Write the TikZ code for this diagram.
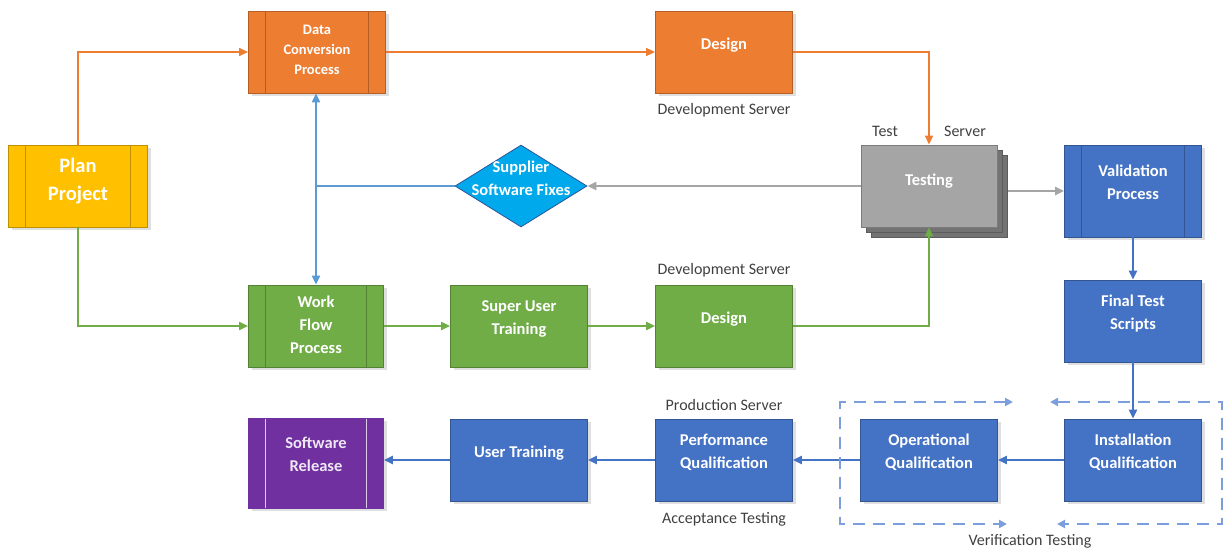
\documentclass[tikz,border=0pt]{standalone}
\usepackage{fontspec}
\setmainfont{Carlito}
\usetikzlibrary{arrows.meta, shapes.geometric, shadows, backgrounds}
\definecolor{amber}{RGB}{255,192,0}
\definecolor{convorange}{RGB}{237,125,49}
\definecolor{flowgreen}{RGB}{112,173,71}
\definecolor{qualblue}{RGB}{68,114,196}
\definecolor{relpurple}{RGB}{112,48,160}
\definecolor{testgray}{RGB}{165,165,165}
\definecolor{stackgray}{RGB}{115,115,115}
\definecolor{fixcyan}{RGB}{0,168,236}
\definecolor{fixedge}{RGB}{47,85,151}
\definecolor{linkblue}{RGB}{91,155,213}
\definecolor{vtblue}{RGB}{124,158,220}
\definecolor{notegray}{RGB}{64,64,64}

\begin{document}
\begin{tikzpicture}[x=1pt, y=-1pt,
        boxbase/.style={draw=#1!75!black, fill=#1, line width=0.8pt, minimum width=137pt, minimum height=82pt,
                        align=center, text=white, font=\fontsize{16.5}{23}\selectfont\bfseries, text depth=17pt},
        box/.style={boxbase=#1, drop shadow={shadow xshift=3pt, shadow yshift=-3pt, opacity=0.25}},
        bars/.style={path picture={
            \draw[#1, line width=1.4pt]
              ([xshift=17pt]path picture bounding box.north west) -- ([xshift=17pt]path picture bounding box.south west)
              ([xshift=-17pt]path picture bounding box.north east) -- ([xshift=-17pt]path picture bounding box.south east);}},
        link/.style={-{Triangle[length=9pt, width=8pt]}, line width=2pt},
        vtflow/.style={{Triangle[length=8pt, width=8pt]}-{Triangle[length=8pt, width=8pt]}, vtblue, line width=2pt,
                       dash pattern=on 12pt off 8pt},
        note/.style={text=notegray, font=\fontsize{16}{19}\selectfont},
      ]
      \useasboundingbox (0,0) rectangle (1226,551);

      \node[box=amber, bars=amber!75!black, minimum width=139pt, font=\fontsize{20.5}{28}\selectfont\bfseries,
            text depth=13pt] (plan) at (78,186) {Plan\\ Project};
      \node[box=convorange, bars=convorange!75!black, font=\fontsize{14.5}{20}\selectfont\bfseries,
            text depth=5pt] (dataconv) at (317,52) {Data\\ Conversion\\ Process};
      \node[box=convorange] (design1) at (724,52) {Design};
      \node[boxbase=testgray, text depth=13pt, minimum width=136pt,
            double copy shadow={shadow xshift=5pt, shadow yshift=-5pt, fill=stackgray, draw=stackgray!80!black}]
            (testing) at (929,186) {Testing};
      \node[fill=fixcyan, draw=fixedge, line width=0.8pt, diamond, aspect=1.6, minimum width=132pt,
            minimum height=82pt, inner sep=0pt,
            label={[text=white, align=center, font=\fontsize{16.5}{23}\selectfont\bfseries, yshift=8pt]center:Supplier\\ Software Fixes}]
            (fixes) at (521,186) {};
      \node[box=qualblue, bars=qualblue!75!black, minimum height=92pt] (validation) at (1133,191) {Validation\\ Process};
      \node[box=qualblue] (finaltest) at (1133,321) {Final Test\\ Scripts};

      \node[box=flowgreen, bars=flowgreen!75!black, minimum width=135pt, text depth=2pt] (workflow) at (316,326) {Work\\ Flow\\ Process};
      \node[box=flowgreen] (superuser) at (519,326) {Super User\\ Training};
      \node[box=flowgreen] (design2) at (724,326) {Design};

      \node[box=qualblue] (install) at (1133,460) {Installation\\ Qualification};
      \node[box=qualblue] (operational) at (929,460) {Operational\\ Qualification};
      \node[box=qualblue] (performance) at (724,460) {Performance\\ Qualification};
      \node[box=qualblue] (usertrain) at (519,460) {User Training};
      \node[box=relpurple, bars=relpurple!25!white, draw=relpurple, minimum width=135pt, minimum height=90pt,
            text=relpurple!12!white] (release) at (316,463) {Software\\ Release};

      \node[note] (devtop) at (724,110) {Development Server};
      \node[note] (devbottom) at (724,270) {Development Server};
      \node[note] (testlbl) at (885,131) {Test};
      \node[note] (serverlbl) at (965,131) {Server};
      \node[note] (prodlbl) at (724,405) {Production Server};
      \node[note] (acclbl) at (724,519) {Acceptance Testing};
      \node[note] (verlbl) at (1030,541) {Verification Testing};

      \draw[link, convorange, line width=1.6pt] (plan.north) |- (dataconv.west);
      \draw[link, convorange, line width=1.6pt] (dataconv) -- (design1);
      \draw[link, convorange, line width=1.6pt] (design1.east) -| (testing.north);

      \draw[link, flowgreen] (plan.south) |- (workflow.west);
      \draw[link, flowgreen] (workflow) -- (superuser);
      \draw[link, flowgreen] (superuser) -- (design2);
      \draw[link, flowgreen] (design2.east) -| (testing.south);

      \coordinate (fork) at (316,186);
      \draw[link, testgray, line width=2.4pt] (testing) -- (fixes);
      \draw[linkblue, line width=2pt] (fixes.west) -- (fork);
      \draw[link, linkblue] (fork) -- (fork |- dataconv.south);
      \draw[link, linkblue] (fork) -- (fork |- workflow.north);

      \begin{scope}[on background layer]
        \draw[link, testgray, line width=2.4pt] (testing.east |- validation.west) -- (validation.west);
      \end{scope}

      \draw[link, qualblue, line width=2.6pt] (validation) -- (finaltest);
      \draw[link, qualblue, line width=2.6pt] (finaltest) -- (install);
      \draw[link, qualblue, line width=2.6pt] (install) -- (operational);
      \draw[link, qualblue, line width=2.6pt] (operational) -- (performance);
      \draw[link, qualblue, line width=2.6pt] (performance) -- (usertrain);
      \draw[link, qualblue, line width=2.6pt] (usertrain) -- (release.east |- usertrain.west);

      \coordinate (vnw) at (840,402);
      \coordinate (vse) at (1222,524);
      \coordinate (vtopa) at (1013,402);
      \coordinate (vtopb) at (1050,402);
      \coordinate (vbota) at (1007,524);
      \coordinate (vbotb) at (1057,524);
      \draw[vtflow] (vtopa) -- (vnw) |- (vbota);
      \draw[vtflow] (vtopb) -| (vse) -- (vbotb);
    \end{tikzpicture}
\end{document}
